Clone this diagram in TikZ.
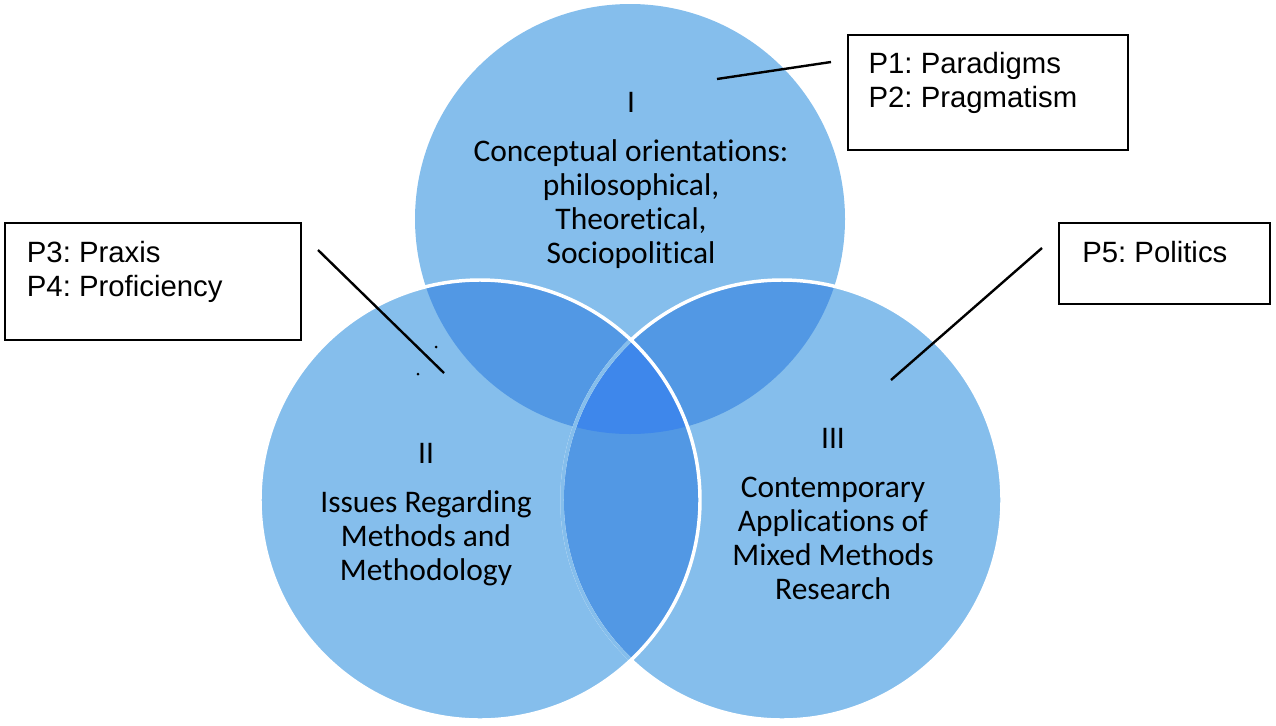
\documentclass[tikz,border=0pt]{standalone}
\usepackage{fontspec}
\setmainfont{Carlito}[Ligatures=NoCommon]
\newfontfamily\boxfont{Liberation Sans}
\usetikzlibrary{positioning}
\frenchspacing

\definecolor{vennlight}{RGB}{133,190,236}
\definecolor{venndouble}{RGB}{82,152,228}
\definecolor{venntriple}{RGB}{62,135,235}

\begin{document}
\begin{tikzpicture}[x=0.75pt,y=-0.75pt,
    ring/.style={draw=white,line width=2.6pt},
    topic/.style={font=\fontsize{23.6}{25.5}\selectfont,align=center,inner sep=0pt},
    numeral/.style={font=\fontsize{23.6}{25.5}\selectfont,inner sep=0pt},
    pbox/.style={draw=black,line width=1.5pt,inner sep=0pt},
    plabel/.style={font=\boxfont\fontsize{22}{25.5}\selectfont,align=left,inner sep=0pt},
    pointer/.style={line width=1.8pt}]
  \useasboundingbox (0,0) rectangle (1276,725);

  \coordinate (cI) at (630,219);
  \coordinate (cII) at (480,500);
  \coordinate (cIII) at (782,500);

  % circles and overlaps
  \fill[vennlight] (cI) circle (215);
  \fill[vennlight] (cII) circle (220);
  \fill[vennlight] (cIII) circle (220);
  \begin{scope}
    \clip (cI) circle (215);
    \fill[venndouble] (cII) circle (220);
    \fill[venndouble] (cIII) circle (220);
  \end{scope}
  \begin{scope}
    \clip (cII) circle (220);
    \fill[venndouble] (cIII) circle (220);
  \end{scope}
  \begin{scope}
    \clip (cI) circle (215);
    \clip (cII) circle (220);
    \fill[venntriple] (cIII) circle (220);
  \end{scope}

  % white rims
  \draw[ring] (cIII) circle (220);
  \begin{scope}
    \clip (cII) circle (220);
    \draw[vennlight,line width=2.6pt] (cIII) circle (220);
  \end{scope}
  \draw[ring] (cII) circle (220);

  % circle texts
  \node[numeral,anchor=base] (numI) at (631,112) {I};
  \node[topic,anchor=base] (txtI) at (631,263)
    {Conceptual orientations:\\philosophical,\\Theoretical,\\Sociopolitical};
  \node[numeral,anchor=base] (numII) at (426,463) {II};
  \node[topic,anchor=base] (txtII) at (426,580)
    {Issues Regarding\\Methods and\\Methodology};
  \node[numeral,anchor=base] (numIII) at (833,448) {III};
  \node[topic,anchor=base] (txtIII) at (833,599)
    {Contemporary\\Applications of\\Mixed Methods\\Research};

  % boxes
  \node[pbox,minimum width=210pt,minimum height=86.25pt] (boxP12) at (988,92.5) {};
  \node[pbox,minimum width=222pt,minimum height=87.75pt] (boxP34) at (153,281.5) {};
  \node[pbox,minimum width=158.25pt,minimum height=60.75pt] (boxP5) at (1164.5,263.5) {};

  \node[plabel,below right=13.5pt and 16pt of boxP12.north west] (lblP12)
    {P1: Paradigms\\P2: Pragmatism};
  \node[plabel,below right=14.5pt and 17pt of boxP34.north west] (lblP34)
    {P3: Praxis\\P4: Proficiency};
  \node[plabel,below right=14.5pt and 18pt of boxP5.north west] (lblP5)
    {P5: Politics};

  % pointers
  \coordinate (tailP12) at (831,62);
  \coordinate (tipP12) at (717,79);
  \coordinate (tailP34) at (318,250);
  \coordinate (tipP34) at (444,373);
  \coordinate (tailP5) at (1042,248);
  \coordinate (tipP5) at (891,380);
  \draw[pointer] (tailP12) -- (tipP12);
  \draw[pointer] (tailP34) -- (tipP34);
  \draw[pointer] (tailP5) -- (tipP5);

  \fill (436,347) circle (1.5);
  \fill (418,374) circle (1.5);
\end{tikzpicture}
\end{document}
